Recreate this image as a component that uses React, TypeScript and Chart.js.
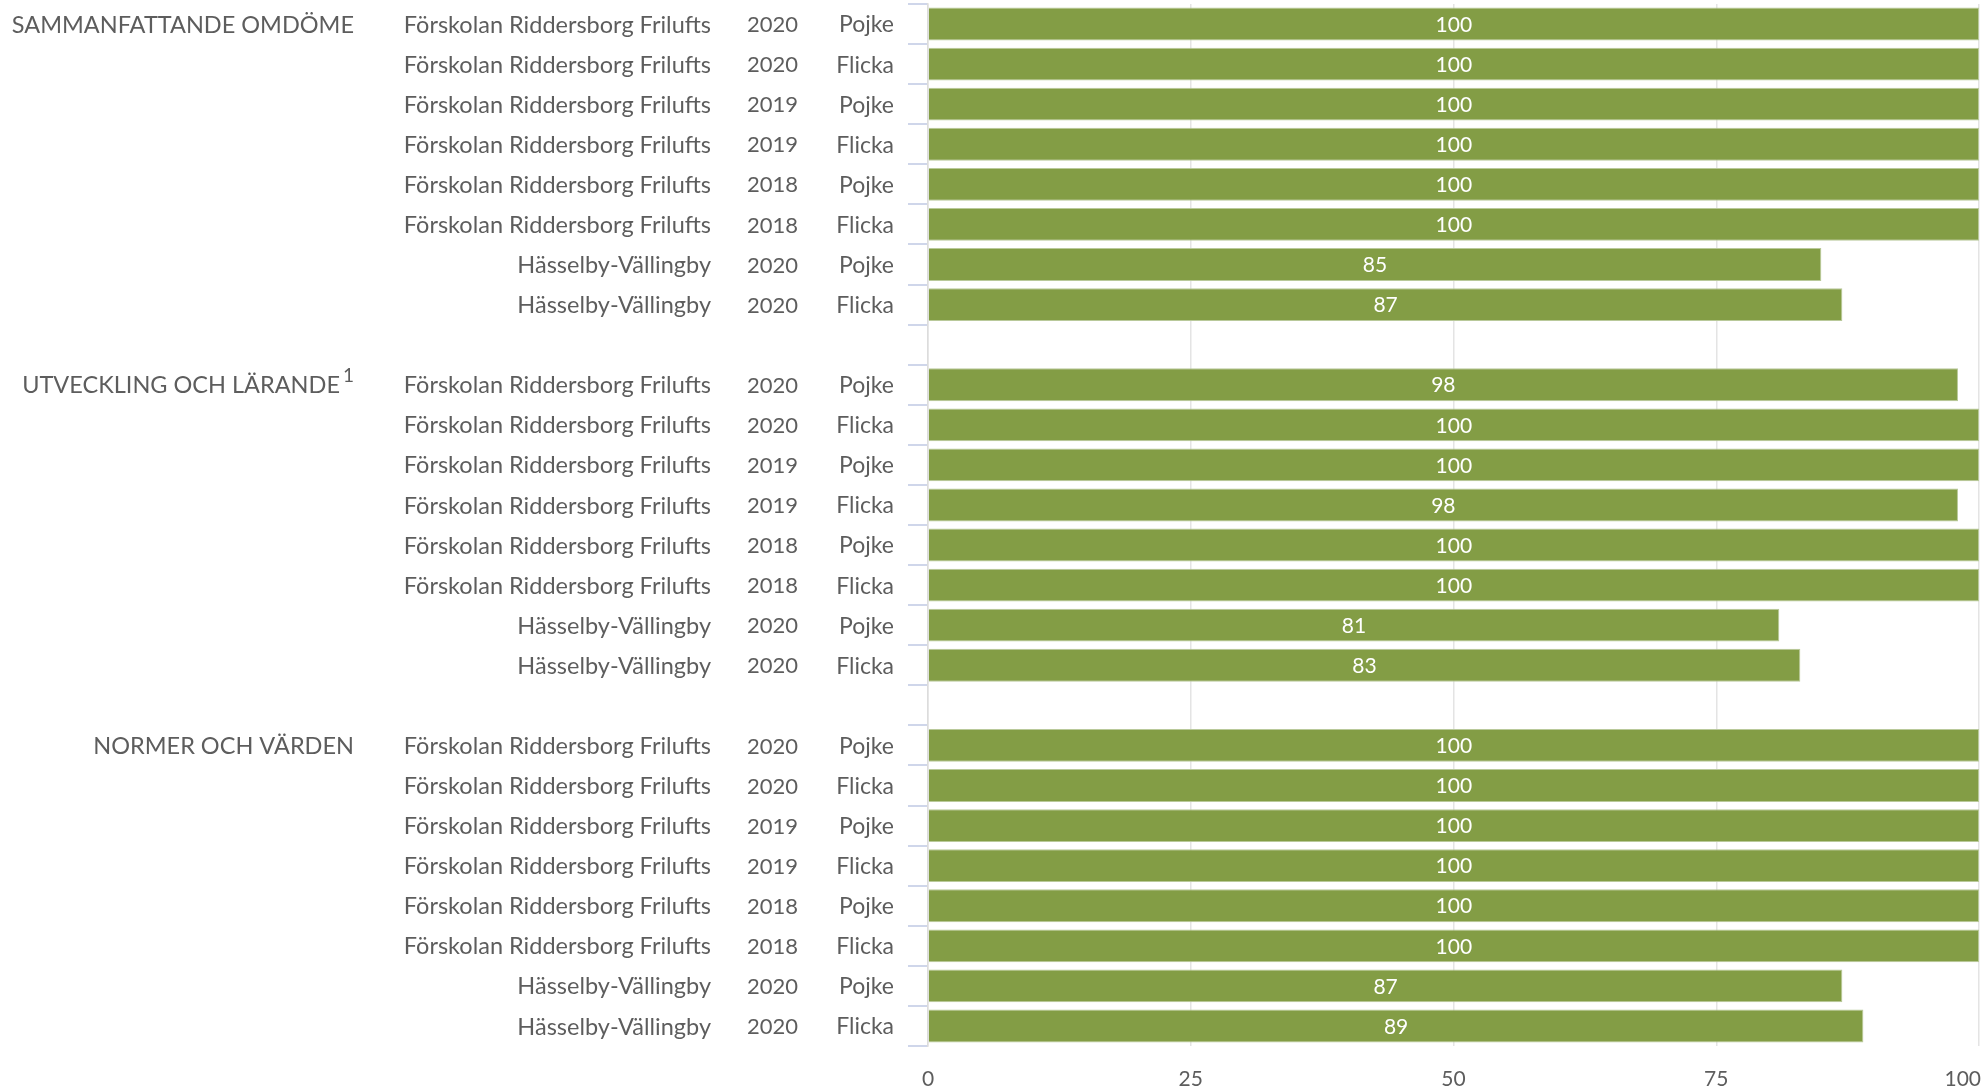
import React, { useEffect, useRef } from "react";
import { Chart, registerables } from "chart.js";

Chart.register(...registerables);

// ---- data ----
const groupTitles = ["SAMMANFATTANDE OMDÖME", "UTVECKLING OCH LÄRANDE", "NORMER OCH VÄRDEN"];
const groupFootnotes = ["", "1", ""];
const unitNames = [
  "Förskolan Riddersborg Frilufts",
  "Förskolan Riddersborg Frilufts",
  "Förskolan Riddersborg Frilufts",
  "Förskolan Riddersborg Frilufts",
  "Förskolan Riddersborg Frilufts",
  "Förskolan Riddersborg Frilufts",
  "Hässelby-Vällingby",
  "Hässelby-Vällingby",
];
const years = ["2020", "2020", "2019", "2019", "2018", "2018", "2020", "2020"];
const genders = ["Pojke", "Flicka", "Pojke", "Flicka", "Pojke", "Flicka", "Pojke", "Flicka"];
const valuesSammanfattande = [100, 100, 100, 100, 100, 100, 85, 87];
const valuesUtveckling = [98, 100, 100, 98, 100, 100, 81, 83];
const valuesNormer = [100, 100, 100, 100, 100, 100, 87, 89];
const xTicks = [0, 25, 50, 75, 100];

const groupValues = [valuesSammanfattande, valuesUtveckling, valuesNormer];

type Row = { group: number; first: boolean; name: string; year: string; gender: string } | null;

// build rows (with empty spacer rows between groups)
const rows: Row[] = [];
const values: (number | null)[] = [];
groupValues.forEach((vals, g) => {
  if (g > 0) {
    rows.push(null);
    values.push(null);
  }
  vals.forEach((v, i) => {
    rows.push({ group: g, first: i === 0, name: unitNames[i], year: years[i], gender: genders[i] });
    values.push(v);
  });
});
const labels = rows.map((r) => (r ? `${groupTitles[r.group]} ${r.name} ${r.year} ${r.gender}` : ""));

const TEXT = "#5d5d5d";
const BAR = "#839d45";
const FONT = "Lato, 'Open Sans', sans-serif";

const rowLabelsPlugin = {
  id: "rowLabels",
  afterDraw(chart: any) {
    const ctx = chart.ctx;
    const y = chart.scales.y;
    ctx.save();
    ctx.fillStyle = TEXT;
    ctx.textBaseline = "middle";
    ctx.textAlign = "right";
    rows.forEach((r, i) => {
      if (!r) return;
      const py = y.getPixelForValue(i) + 1;
      ctx.font = `23.5px ${FONT}`;
      ctx.fillText(r.name, 711, py);
      ctx.font = `22px ${FONT}`;
      ctx.fillText(r.year, 798, py);
      ctx.font = `23px ${FONT}`;
      ctx.fillText(r.gender, 894, py);
      if (r.first) {
        const fn = groupFootnotes[r.group];
        let right = 354;
        if (fn) {
          ctx.font = `19px ${FONT}`;
          ctx.fillText(fn, right, py - 10);
          right -= ctx.measureText(fn).width + 3;
        }
        ctx.font = `23.5px ${FONT}`;
        ctx.fillText(groupTitles[r.group], right, py);
      }
    });

    // x-axis tick labels (kept inside the canvas on the right)
    const x = chart.scales.x;
    ctx.font = `21px ${FONT}`;
    ctx.textAlign = "center";
    x.ticks.forEach((t: any, i: number) => {
      const label = String(t.value);
      const w = ctx.measureText(label).width;
      let px = x.getPixelForTick(i);
      px = Math.min(px, chart.width - 2 - w / 2);
      ctx.fillText(label, px, x.top + 33);
    });
    ctx.restore();
  },
};

const valueLabelsPlugin = {
  id: "valueLabels",
  afterDatasetsDraw(chart: any) {
    const ctx = chart.ctx;
    const meta = chart.getDatasetMeta(0);
    ctx.save();
    ctx.fillStyle = "#ffffff";
    ctx.font = `21px ${FONT}`;
    ctx.textAlign = "center";
    ctx.textBaseline = "middle";
    meta.data.forEach((el: any, i: number) => {
      const v = values[i];
      if (v === null || v === undefined) return;
      const p = el.getProps(["x", "y", "base"], true);
      ctx.fillText(String(v), (p.x + p.base) / 2, p.y + 1);
    });
    ctx.restore();
  },
};

export default function App() {
  const ref = useRef<HTMLCanvasElement | null>(null);
  useEffect(() => {
    document.body.style.margin = "0";
    const canvas = ref.current;
    if (!canvas) return;
    const chart = new Chart(canvas, {
      type: "bar",
      data: {
        labels,
        datasets: [
          {
            data: values as any,
            backgroundColor: BAR,
            borderColor: "#b9c99a",
            borderWidth: 1,
            categoryPercentage: 1,
            barPercentage: 0.82,
          },
        ],
      },
      options: {
        indexAxis: "y",
        responsive: false,
        animation: false,
        devicePixelRatio: 1,
        layout: { padding: { left: 908, right: 4, top: 4, bottom: 0 } },
        plugins: {
          legend: { display: false },
          tooltip: { enabled: false },
          title: { display: false },
        },
        scales: {
          x: {
            type: "linear",
            min: 0,
            max: 100,
            afterBuildTicks(scale: any) {
              scale.ticks = xTicks.map((v) => ({ value: v }));
            },
            afterFit(scale: any) {
              scale.paddingLeft = 0;
              scale.paddingRight = 0;
              scale.height = 44;
            },
            ticks: { display: false },
            grid: { color: "#e4e4e4", lineWidth: 1.5, drawTicks: false },
            border: { display: false },
          },
          y: {
            type: "category",
            offset: true,
            ticks: { display: false },
            grid: {
              offset: true,
              drawOnChartArea: false,
              drawTicks: true,
              tickLength: 20,
              color: "#cfd6ea",
              lineWidth: 2,
            },
            border: { display: true, color: "#dcdcdc", width: 1.5 },
          },
        },
      },
      plugins: [valueLabelsPlugin, rowLabelsPlugin],
    } as any);
    return () => chart.destroy();
  }, []);
  return (
    <div style={{ width: 1983, height: 1090, background: "#fff" }}>
      <canvas ref={ref} width={1983} height={1090} style={{ display: "block" }} />
    </div>
  );
}
